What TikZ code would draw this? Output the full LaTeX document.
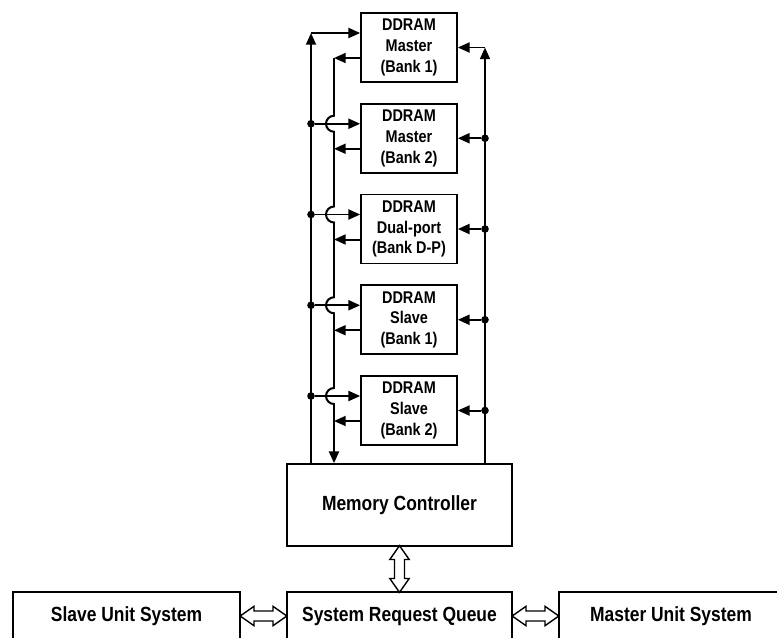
\documentclass[tikz,border=0pt]{standalone}
\usepackage{fontspec}
\setmainfont{Liberation Sans}[FakeStretch=0.85]
\usetikzlibrary{arrows.meta,shapes.arrows}

\tikzset{
  bankbox/.style={draw,line width=1.4pt,align=center,inner sep=0pt,
    minimum width=2.88cm,minimum height=2.07cm,
    font=\bfseries\fontsize{14.5}{17.7}\selectfont},
  unitbox/.style={draw,line width=1.4pt,inner sep=0pt,
    font=\bfseries\fontsize{17.5}{21}\selectfont},
  arr/.style={line width=1.7pt,-{Triangle[length=10pt,width=8.5pt]}},
  dot/.style={circle,fill,inner sep=0pt,minimum size=6.5pt},
  hollow/.style={draw,line width=1.2pt,double arrow,inner xsep=0pt,inner ysep=0.13cm,
    double arrow head extend=0.14cm,double arrow tip angle=70,minimum height=1.4cm}
}

\begin{document}
\begin{tikzpicture}[x=0.03cm,y=-0.03cm]
        \useasboundingbox (0,0) rectangle (777,637);
        \clip (0,0) rectangle (777,637);

        % memory banks
        \foreach \i/\y/\kind/\bnk in {1/47.5/Master/1,2/138.25/Master/2,
            3/229/Dual-port/D-P,4/319.75/Slave/1,5/410.5/Slave/2}
          \node[bankbox] (bank\i) at (409,\y) {DDRAM\\\kind\\(Bank \bnk)};

        \node[unitbox,minimum width=6.75cm,minimum height=2.46cm] (mc) at (399.5,505) {Memory Controller};
        \node[unitbox,minimum width=6.75cm,minimum height=1.44cm] (srq) at (399.5,616) {System Request Queue};
        \node[unitbox,minimum width=6.81cm,minimum height=1.44cm] (slave) at (126.5,616) {Slave Unit System};
        \node[unitbox,minimum width=6.72cm,minimum height=1.44cm] (master) at (671,616) {Master Unit System};

        \coordinate (ltop) at (311,33);
        \coordinate (itop) at (334,58);
        \coordinate (rtop) at (485,47.5);

        % buses
        \draw[arr] (ltop |- mc.north) -- (ltop);
        \draw[arr] (ltop) -- (ltop -| bank1.west);
        \draw[arr] (rtop |- mc.north) -- (rtop);
        \draw[arr] (rtop) -- (bank1.east);
        \draw[arr] (bank1.west |- itop) -- (itop);
        \draw[arr] (itop) \foreach \y in {123.75,214.5,305.25,396} {
            -- (334,\y-8) arc[start angle=90,end angle=270,radius=0.24cm] }
          -- (itop |- mc.north);

        \foreach \i in {2,...,5} {
          \coordinate (lin\i) at ([yshift=0.435cm]bank\i.west);
          \node[dot] (ldot\i) at (ltop |- lin\i) {};
          \draw[arr] (ldot\i) -- (lin\i);
          \coordinate (lout\i) at ([yshift=-0.315cm]bank\i.west);
          \draw[arr] (lout\i) -- (itop |- lout\i);
          \node[dot] (rdot\i) at (rtop |- bank\i.east) {};
          \draw[arr] (rdot\i) -- (bank\i.east);
        }

        % hollow links
        \path (mc.south) -- node[hollow,sloped] {} (srq.north);
        \path (slave.east) -- node[hollow] {} (srq.west);
        \path (srq.east) -- node[hollow] {} (master.west);
    \end{tikzpicture}
\end{document}
